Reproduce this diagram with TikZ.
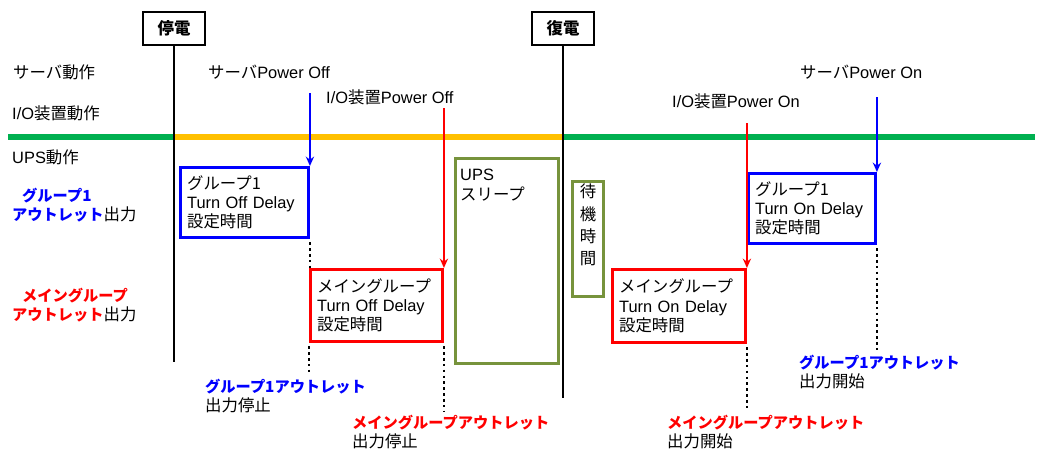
\documentclass[tikz,border=0pt]{standalone}
\usepackage{fontspec}
\setmainfont{Liberation Sans}
\newfontfamily\jp{Noto Sans CJK JP}
\usetikzlibrary{arrows.meta,positioning}
\definecolor{tlGreen}{HTML}{00B050}
\definecolor{tlOrange}{HTML}{FFC000}
\definecolor{upsGreen}{HTML}{77933C}
\newcommand{\bjp}[2]{{\color{#1}\bfseries\jp\fontsize{13pt}{16.5pt}\selectfont #2}}

\begin{document}
\begin{tikzpicture} [
      x=0.03cm, y=-0.03cm,
      every node/.style={font=\fontsize{14pt}{16.5pt}\selectfont, inner sep=0pt},
      event/.style={draw, rectangle, line width=2.5pt, minimum width=1.86cm, minimum height=0.99cm, font=\fontsize{14pt}{16.5pt}\selectfont\jp\bfseries},
      delay/.style={draw, rectangle, line width=2.5pt, anchor=north west, align=left, inner xsep=0.2cm},
      sleep/.style={draw=upsGreen, rectangle, line width=2.5pt, anchor=north west},
      txt/.style={anchor=west, align=left},
      timeline/.style={line width=4.5pt},
      marker/.style={line width=2.5pt},
      trigger/.style={line width=1.7pt, -{Stealth[length=8pt, width=7pt]}},
      dotline/.style={line width=2.2pt, dash pattern=on 2.2pt off 2.8pt}
   ]
    \useasboundingbox (0,0) rectangle (1039,450);

    \node[event] (ndOutage) at (174,28.5) {停電};
    \node[event] (ndRestore) at (563,28.5) {復電};
    \coordinate (outageEnd) at (174,362);
    \coordinate (restoreEnd) at (563,398);
    \coordinate (tlStart) at (8,137);
    \coordinate (tlEnd) at (1035,137);

    \draw[timeline, tlGreen] (tlStart) -- (outageEnd |- tlStart);
    \draw[timeline, tlOrange] (outageEnd |- tlStart) -- (restoreEnd |- tlStart);
    \draw[timeline, tlGreen] (restoreEnd |- tlStart) -- (tlEnd);
    \draw[marker] (ndOutage.south) -- (outageEnd);
    \draw[marker] (ndRestore.south) -- (restoreEnd);

    \node[txt] (ndSrvAct) at (13,72) {\jp サーバ動作};
    \node[txt] (ndIoAct) at (12,113) {I/O{\jp 装置動作}};
    \node[txt] (ndUpsAct) at (12,157) {UPS{\jp 動作}};
    \node[txt] (ndGrpOut) at (12,205) {
      \hspace*{0.3cm}\bjp{blue}{グループ1}\\
      \bjp{blue}{アウトレット}{\jp 出力}
    };
    \node[txt] (ndMainOut) at (12,305) {
      \hspace*{0.3cm}\bjp{red}{メイングループ}\\
      \bjp{red}{アウトレット}{\jp 出力}
    };

    \node[txt] (ndSrvOff) at (208,72) {{\jp サーバ}Power Off};
    \node[txt] (ndIoOff) at (326,97) {I/O{\jp 装置}Power Off};
    \node[txt] (ndIoOn) at (672,101) {I/O{\jp 装置}Power On};
    \node[txt] (ndSrvOn) at (800,72) {{\jp サーバ}Power On};

    \node[delay, draw=blue, text width=3.44cm, minimum height=2.1cm] (ndGrpOff) at (179,166) {
      {\jp グループ1}\\
      Turn Off Delay\\
      {\jp 設定時間}
    };
    \node[delay, draw=red, text width=3.56cm, minimum height=2.16cm] (ndMainOff) at (309,268) {
      {\jp メイングループ}\\
      Turn Off Delay\\
      {\jp 設定時間}
    };
    \node[sleep, minimum width=3.09cm, minimum height=6.15cm] (ndSleep) at (454,157) {};
    \node[anchor=north west, align=left] (ndSleepTxt) at ([xshift=0.18cm, yshift=-0.36cm]ndSleep.north west) {
      UPS\\
      {\jp スリープ}
    };
    \node[sleep, minimum width=0.93cm, minimum height=3.45cm] (ndWait) at (571,180) {};
    \node[below=0.12cm of ndWait.north, align=center, font=\fontsize{14pt}{19pt}\selectfont\jp] (ndWaitTxt) {待\\機\\時\\間};
    \node[delay, draw=red, text width=3.59cm, minimum height=2.19cm] (ndMainOn) at (611,268) {
      {\jp メイングループ}\\
      Turn On Delay\\
      {\jp 設定時間}
    };
    \node[delay, draw=blue, text width=3.41cm, minimum height=2.1cm] (ndGrpOn) at (747,172) {
      {\jp グループ1}\\
      Turn On Delay\\
      {\jp 設定時間}
    };

    \coordinate (srvOffPt) at (ndGrpOff.north east |- 0,93);
    \coordinate (ioOffPt) at (ndMainOff.north east |- 0,108);
    \coordinate (ioOnPt) at (ndMainOn.north east |- 0,123);
    \coordinate (srvOnPt) at (ndGrpOn.north east |- 0,97);
    \draw[trigger, blue] (srvOffPt) -- (ndGrpOff.north east);
    \draw[trigger, red] (ioOffPt) -- (ndMainOff.north east);
    \draw[trigger, red] (ioOnPt) -- (ndMainOn.north east);
    \draw[trigger, blue] (srvOnPt) -- (ndGrpOn.north east);

    \node[txt] (ndGrpStop) at (205,396) {
      \bjp{blue}{グループ1アウトレット}\\
      {\jp 出力停止}
    };
    \node[txt] (ndMainStop) at (352,432) {
      \bjp{red}{メイングループアウトレット}\\
      {\jp 出力停止}
    };
    \node[txt] (ndMainStart) at (667,432) {
      \bjp{red}{メイングループアウトレット}\\
      {\jp 出力開始}
    };
    \node[txt] (ndGrpStart) at (799,372) {
      \bjp{blue}{グループ1アウトレット}\\
      {\jp 出力開始}
    };

    \draw[dotline] ([yshift=-0.1cm]ndGrpOff.south east) -- (ndGrpOff.south east |- ndMainOff.north);
    \draw[dotline] ([yshift=-0.1cm]ndMainOff.south west) -- ([yshift=0.1cm]ndMainOff.south west |- ndGrpStop.north);
    \draw[dotline] ([yshift=-0.1cm]ndMainOff.south east) -- ([yshift=0.1cm]ndMainOff.south east |- ndMainStop.north);
    \draw[dotline] ([yshift=-0.1cm]ndMainOn.south east) -- ([yshift=0.1cm]ndMainOn.south east |- ndMainStart.north);
    \draw[dotline] ([yshift=-0.1cm]ndGrpOn.south east) -- ([yshift=0.1cm]ndGrpOn.south east |- ndGrpStart.north);

  \end{tikzpicture}
\end{document}
